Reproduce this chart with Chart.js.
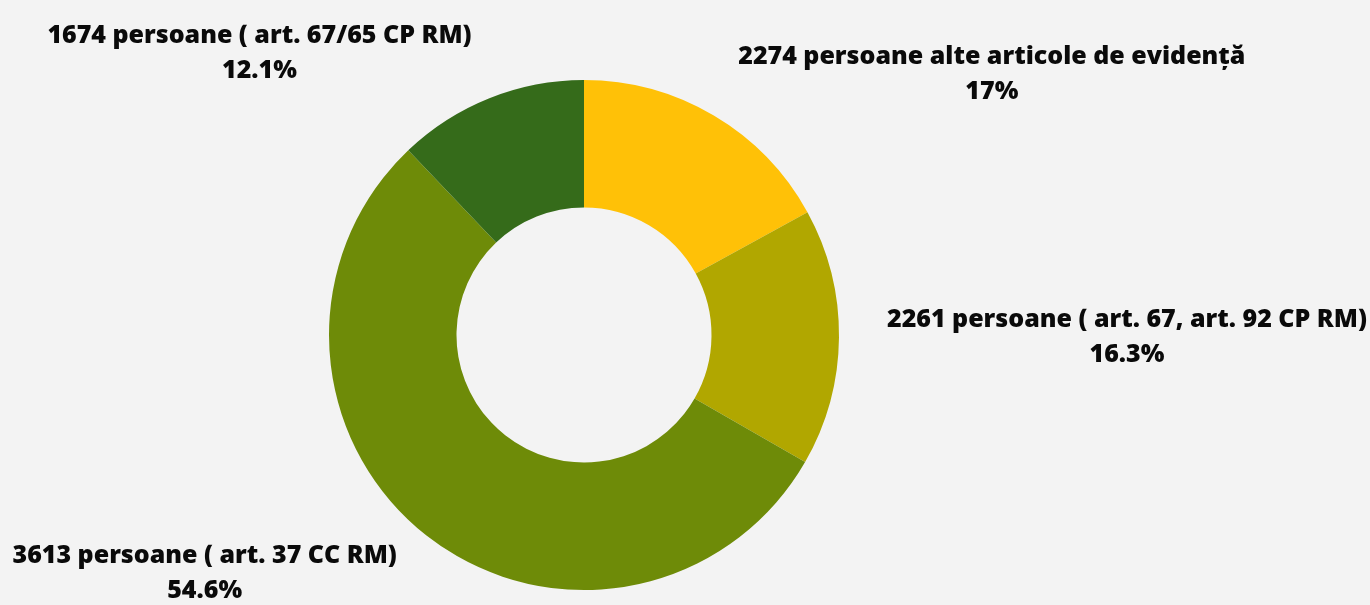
<!DOCTYPE html>
<html>
<head>
<meta charset="utf-8">
<script src="https://cdn.jsdelivr.net/npm/chart.js@4"></script>
<style>
  html, body { margin: 0; padding: 0; background: #f3f3f3; }
  #wrap { width: 1370px; height: 605px; position: relative; }
</style>
</head>
<body>
<div id="wrap"><canvas id="chart"></canvas></div>
<script>
// date din grafic
const categories = [
  '2274 persoane alte articole de evidență',
  '2261 persoane ( art. 67, art. 92 CP RM)',
  '3613 persoane ( art. 37 CC RM)',
  '1674 persoane ( art. 67/65 CP RM)'
];
const percents = [17, 16.3, 54.6, 12.1];
const percentLabels = ['17%', '16.3%', '54.6%', '12.1%'];
const colors = ['#ffc107', '#b1a700', '#6e8b08', '#356b1a'];

// eticheta in afara feliei
const outsideLabels = {
  id: 'outsideLabels',
  afterDatasetsDraw(chart) {
    const ctx = chart.ctx;
    const meta = chart.getDatasetMeta(0);
    ctx.save();
    ctx.font = '800 25px "Open Sans"';
    ctx.fillStyle = '#0a0a0a';
    ctx.textBaseline = 'middle';
    ctx.textAlign = 'center';
    const lineH = 35;
    meta.data.forEach((arc, i) => {
      const p = arc.getProps(['x', 'y', 'startAngle', 'endAngle', 'outerRadius'], true);
      const mid = (p.startAngle + p.endAngle) / 2;
      const r = p.outerRadius + 48;
      const px = p.x + Math.cos(mid) * r;
      const py = p.y + Math.sin(mid) * r;
      const lines = [categories[i], percentLabels[i]];
      const w = Math.max(...lines.map(l => ctx.measureText(l).width));
      const cx = px >= p.x ? px + w / 2 : px - w / 2;
      const top = py - (lines.length - 1) * lineH / 2;
      lines.forEach((l, j) => ctx.fillText(l, cx, top + j * lineH));
    });
    ctx.restore();
  }
};

new Chart(document.getElementById('chart'), {
  type: 'doughnut',
  data: {
    labels: categories,
    datasets: [{
      data: percents,
      backgroundColor: colors,
      borderWidth: 0
    }]
  },
  options: {
    responsive: true,
    maintainAspectRatio: false,
    animation: false,
    cutout: '50%',
    layout: { padding: { left: 329, right: 531, top: 80, bottom: 15 } },
    plugins: {
      legend: { display: false },
      tooltip: { enabled: false }
    }
  },
  plugins: [outsideLabels]
});
</script>
</body>
</html>
